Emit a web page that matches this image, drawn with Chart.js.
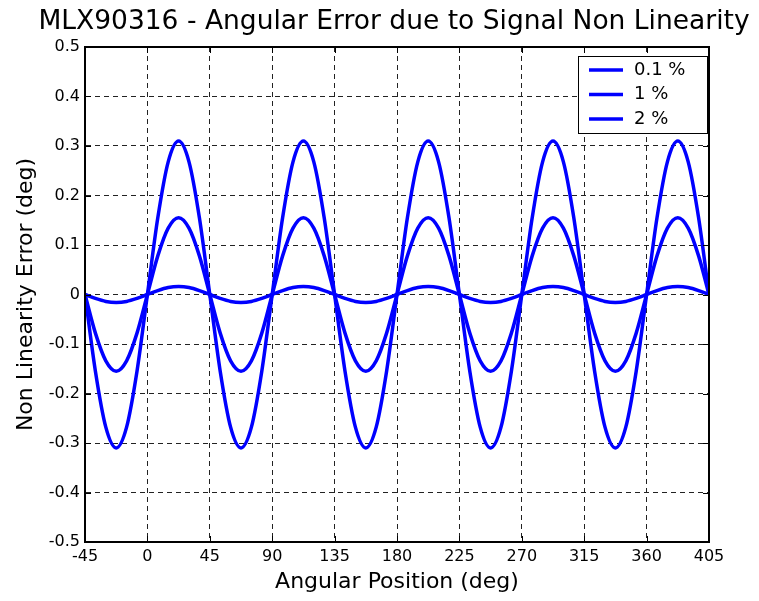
<!DOCTYPE html>
<html>
<head>
<meta charset="utf-8">
<script src="https://cdn.jsdelivr.net/npm/chart.js@4.4.1/dist/chart.umd.min.js"></script>
<style>
  html, body { margin: 0; padding: 0; background: #fff; }
  #wrap { width: 759px; height: 601px; }
</style>
</head>
<body>
<div id="wrap"><canvas id="nlChart"></canvas></div>
<script>
// angular position (deg), read every 7.5 deg
const angles = [-45, -37.5, -30, -22.5, -15, -7.5, 0, 7.5, 15, 22.5, 30, 37.5,
  45, 52.5, 60, 67.5, 75, 82.5, 90, 97.5, 105, 112.5, 120, 127.5,
  135, 142.5, 150, 157.5, 165, 172.5, 180, 187.5, 195, 202.5, 210, 217.5,
  225, 232.5, 240, 247.5, 255, 262.5, 270, 277.5, 285, 292.5, 300, 307.5,
  315, 322.5, 330, 337.5, 345, 352.5, 360, 367.5, 375, 382.5, 390, 397.5, 405];

// non linearity error (deg) for each signal non linearity
const err01 = [0, -0.008, -0.014, -0.016, -0.014, -0.008, 0, 0.008, 0.014, 0.016, 0.014, 0.008,
  0, -0.008, -0.014, -0.016, -0.014, -0.008, 0, 0.008, 0.014, 0.016, 0.014, 0.008,
  0, -0.008, -0.014, -0.016, -0.014, -0.008, 0, 0.008, 0.014, 0.016, 0.014, 0.008,
  0, -0.008, -0.014, -0.016, -0.014, -0.008, 0, 0.008, 0.014, 0.016, 0.014, 0.008,
  0, -0.008, -0.014, -0.016, -0.014, -0.008, 0, 0.008, 0.014, 0.016, 0.014, 0.008, 0];
const err1 = [0, -0.078, -0.134, -0.155, -0.134, -0.078, 0, 0.078, 0.134, 0.155, 0.134, 0.078,
  0, -0.078, -0.134, -0.155, -0.134, -0.078, 0, 0.078, 0.134, 0.155, 0.134, 0.078,
  0, -0.078, -0.134, -0.155, -0.134, -0.078, 0, 0.078, 0.134, 0.155, 0.134, 0.078,
  0, -0.078, -0.134, -0.155, -0.134, -0.078, 0, 0.078, 0.134, 0.155, 0.134, 0.078,
  0, -0.078, -0.134, -0.155, -0.134, -0.078, 0, 0.078, 0.134, 0.155, 0.134, 0.078, 0];
const err2 = [0, -0.155, -0.268, -0.31, -0.268, -0.155, 0, 0.155, 0.268, 0.31, 0.268, 0.155,
  0, -0.155, -0.268, -0.31, -0.268, -0.155, 0, 0.155, 0.268, 0.31, 0.268, 0.155,
  0, -0.155, -0.268, -0.31, -0.268, -0.155, 0, 0.155, 0.268, 0.31, 0.268, 0.155,
  0, -0.155, -0.268, -0.31, -0.268, -0.155, 0, 0.155, 0.268, 0.31, 0.268, 0.155,
  0, -0.155, -0.268, -0.31, -0.268, -0.155, 0, 0.155, 0.268, 0.31, 0.268, 0.155, 0];

const seriesLabels = ['0.1 %', '1 %', '2 %'];
const titleText = 'MLX90316 - Angular Error due to Signal Non Linearity';

const FONT = "'DejaVu Sans', sans-serif";
const BLUE = '#0000ff';

function pts(vals) {
  return vals.map((v, i) => ({ x: angles[i], y: v }));
}

function lineSet(label, vals) {
  return {
    label: label,
    data: pts(vals),
    borderColor: BLUE,
    backgroundColor: BLUE,
    borderWidth: 3.5,
    pointRadius: 0,
    fill: false,
    cubicInterpolationMode: 'monotone'
  };
}

// frame, inner ticks, title and boxed legend (matlab look)
const decor = {
  id: 'decor',
  afterDraw(chart) {
    const ctx = chart.ctx;
    const a = chart.chartArea;
    const xs = chart.scales.x, ys = chart.scales.y;
    ctx.save();
    ctx.strokeStyle = '#000';
    ctx.lineWidth = 1;
    ctx.beginPath();
    xs.ticks.forEach(t => {
      const px = Math.round(xs.getPixelForValue(t.value)) + 0.5;
      ctx.moveTo(px, a.bottom); ctx.lineTo(px, a.bottom - 6);
      ctx.moveTo(px, a.top); ctx.lineTo(px, a.top + 6);
    });
    ys.ticks.forEach(t => {
      const py = Math.round(ys.getPixelForValue(t.value)) + 0.5;
      ctx.moveTo(a.left, py); ctx.lineTo(a.left + 6, py);
      ctx.moveTo(a.right, py); ctx.lineTo(a.right - 6, py);
    });
    ctx.stroke();
    ctx.lineWidth = 2;
    ctx.strokeRect(a.left, a.top, a.right - a.left, a.bottom - a.top);

    // title
    ctx.fillStyle = '#000';
    ctx.font = '26.5px ' + FONT;
    ctx.textAlign = 'center';
    ctx.textBaseline = 'middle';
    ctx.fillText(titleText, 394, 22);

    // legend
    const bx = 578, by = 56, bw = 129, bh = 77;
    ctx.fillStyle = '#fff';
    ctx.fillRect(bx, by, bw, bh);
    ctx.lineWidth = 1;
    ctx.strokeStyle = '#000';
    ctx.strokeRect(bx + 0.5, by + 0.5, bw, bh);
    ctx.font = '18px ' + FONT;
    ctx.textAlign = 'left';
    chart.data.datasets.forEach((ds, i) => {
      const y = 70 + i * 24.5;
      ctx.strokeStyle = ds.borderColor;
      ctx.lineWidth = 3.5;
      ctx.beginPath();
      ctx.moveTo(589, y); ctx.lineTo(623, y);
      ctx.stroke();
      ctx.fillStyle = '#000';
      ctx.fillText(ds.label, 634, y);
    });
    ctx.restore();
  }
};

const ctx = document.getElementById('nlChart').getContext('2d');
const nlChart = new Chart(ctx, {
  type: 'line',
  data: {
    datasets: [
      lineSet(seriesLabels[0], err01),
      lineSet(seriesLabels[1], err1),
      lineSet(seriesLabels[2], err2)
    ]
  },
  options: {
    responsive: true,
    maintainAspectRatio: false,
    animation: false,
    layout: { padding: { top: 47, right: 50, bottom: 0, left: 0 } },
    plugins: {
      legend: { display: false },
      title: { display: false },
      tooltip: { enabled: false }
    },
    scales: {
      x: {
        type: 'linear',
        min: -45,
        max: 405,
        afterFit(s) { s.height = 59; },
        ticks: { stepSize: 45, color: '#000', padding: 5, maxRotation: 0, font: { family: FONT, size: 16 } },
        grid: { color: '#222', lineWidth: 1, drawTicks: false },
        border: { color: '#000', width: 2, dash: [5, 4] },
        title: { display: true, text: 'Angular Position (deg)', color: '#000', padding: { top: 0, bottom: 6 }, font: { family: FONT, size: 22 } }
      },
      y: {
        min: -0.5,
        max: 0.5,
        afterFit(s) { s.width = 85; },
        ticks: {
          stepSize: 0.1,
          color: '#000',
          padding: 5,
          font: { family: FONT, size: 16 },
          callback: v => String(Number(v.toFixed(1)))
        },
        grid: { color: '#222', lineWidth: 1, drawTicks: false },
        border: { color: '#000', width: 2, dash: [5, 4] },
        title: { display: true, text: 'Non Linearity Error (deg)', color: '#000', padding: { top: 13, bottom: 0 }, font: { family: FONT, size: 22 } }
      }
    }
  },
  plugins: [decor]
});
</script>
</body>
</html>
